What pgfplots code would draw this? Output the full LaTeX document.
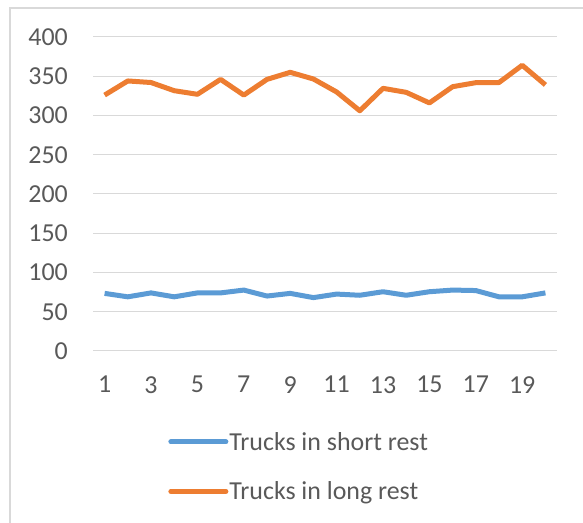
\documentclass[border=0pt]{standalone}
\usepackage{pgfplots}
\pgfplotsset{compat=1.18}
\usepackage{fontspec}
\setmainfont{Carlito}
\definecolor{cblue}{HTML}{5B9BD5}
\definecolor{corange}{HTML}{ED7D31}
\definecolor{gridc}{HTML}{D9D9D9}
\definecolor{textc}{HTML}{595959}
\begin{document}
\begin{tikzpicture}[x=1bp,y=1bp]
\useasboundingbox (0,0) rectangle (583,523);
\draw[gridc, line width=1.2bp] (10,0) -- (10,515) -- (583,515);
\begin{axis}[
  at={(93bp,172bp)}, anchor=south west,
  scale only axis, width=464bp, height=314bp,
  xmin=0.5, xmax=20.5, ymin=0, ymax=400,
  ytick={0,50,...,400}, xtick={1,3,...,19},
  ymajorgrids, grid style={gridc, line width=1bp},
  axis line style={draw=none}, major tick length=0pt,
  tick label style={font=\fontsize{26}{31}\selectfont, text=textc, inner sep=0pt},
  /pgf/number format/assume math mode=true,
  yticklabel style={anchor=east, xshift=-25bp},
  xticklabel style={anchor=north, yshift=-25bp},
  legend style={draw=none, fill=none, at={(0.162,-0.258)}, anchor=north west,
    font=\fontsize{26}{31}\selectfont, text=textc, row sep=30bp,
    inner sep=0pt, nodes={inner sep=0pt},
    /tikz/every odd column/.append style={column sep=1bp}},
  legend cell align=left,
  legend image code/.code={\draw[#1, line cap=round] (0bp,0bp) -- (55bp,0bp);},
]
\addplot[cblue, line width=5bp, line join=round] coordinates {
(1,73.4) (2,69) (3,74) (4,69) (5,74) (6,74) (7,77.6) (8,70) (9,73.4) (10,68)
(11,72.5) (12,71) (13,75.5) (14,71) (15,75.5) (16,77.6) (17,77) (18,69) (19,69) (20,74)};
\addlegendentry{Trucks in short rest}
\addplot[corange, line width=5bp, line join=round] coordinates {
(1,326) (2,344) (3,342) (4,331.6) (5,327) (6,346) (7,326) (8,346) (9,355) (10,346.5)
(11,330) (12,306) (13,334.6) (14,329.5) (15,316) (16,336.7) (17,341.8) (18,342) (19,364) (20,339)};
\addlegendentry{Trucks in long rest}
\end{axis}
\end{tikzpicture}
\end{document}
